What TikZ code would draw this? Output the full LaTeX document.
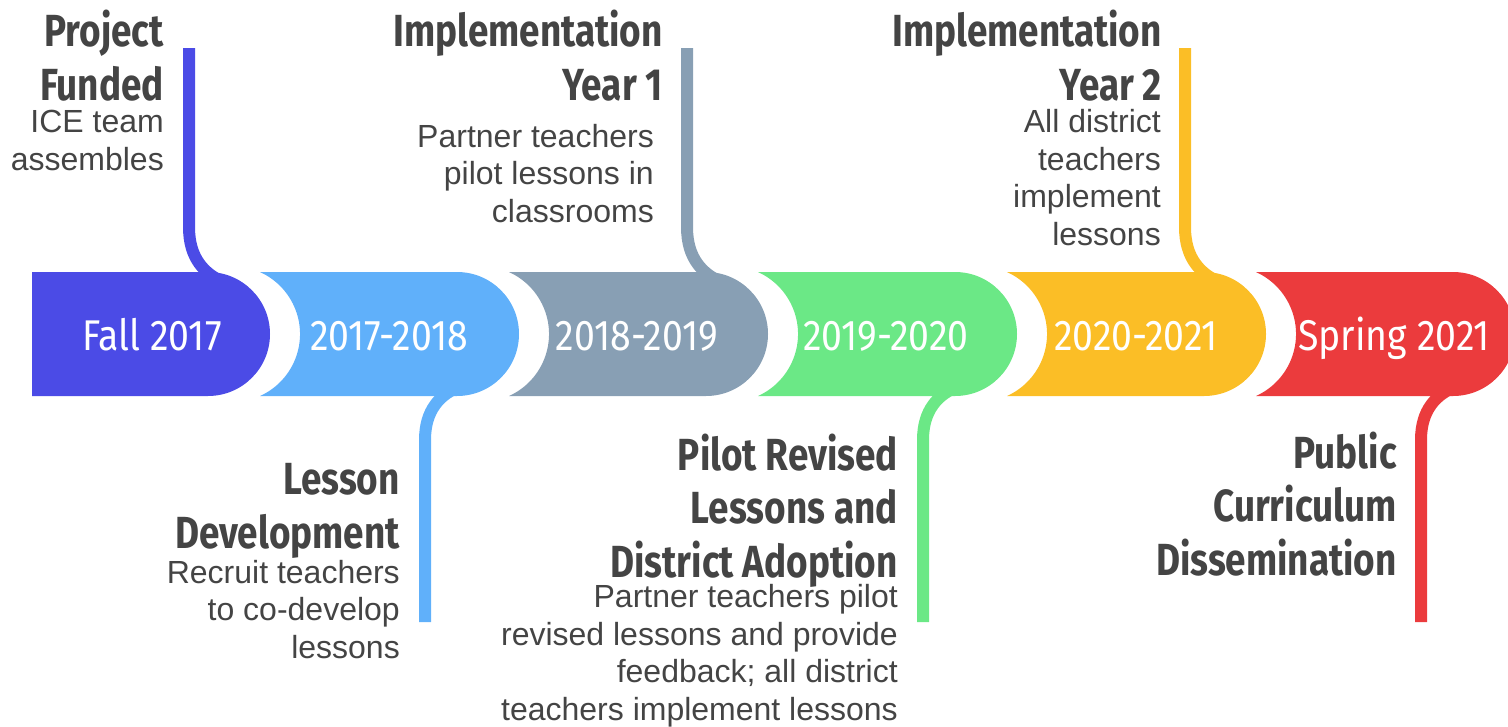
\documentclass[tikz,border=0pt]{standalone}
\usepackage{fontspec}
\setmainfont{Liberation Sans}
\newfontfamily\titlefont[FakeStretch=0.82]{Fira Sans}
\newfontfamily\bandfont[FakeStretch=0.87]{Fira Sans}
\definecolor{c1}{HTML}{4B4BE6}
\definecolor{c2}{HTML}{60B0FA}
\definecolor{c3}{HTML}{889FB4}
\definecolor{c4}{HTML}{6BE886}
\definecolor{c5}{HTML}{FBBE26}
\definecolor{c6}{HTML}{EB3B3D}
\definecolor{txt}{HTML}{444444}
\begin{document}
\begin{tikzpicture}[x=1pt,y=-1pt,
  title/.style={font=\titlefont\bfseries\fontsize{45}{53.5}\selectfont, text=txt, align=right, inner sep=0pt, anchor=base east},
  body/.style={font=\fontsize{32}{37.5}\selectfont, text=txt, align=right, inner sep=0pt, anchor=base east},
  lab/.style={font=\bandfont\fontsize{43}{50}\selectfont, text=white, inner sep=0pt, anchor=base},
  stalk/.style={line width=12pt}]
\clip (0,0) rectangle (1508,726);
% stalks (drawn under the band)
\foreach \k/\c in {0/c1,2/c3,4/c5}{
  \pgfmathsetmacro\R{270+249*\k}
  \coordinate (top\k) at (\R-81,48);
  \draw[stalk,\c] (top\k) -- (\R-81,227) .. controls (\R-81,258) and (\R-66,274) .. (\R-45,283);
}
\foreach \k/\c in {1/c2,3/c4,5/c6}{
  \pgfmathsetmacro\R{270+249*\k}
  \coordinate (bot\k) at (\R-94,622);
  \draw[stalk,\c] (bot\k) -- (\R-94,440) .. controls (\R-94,410) and (\R-79,394) .. (\R-58,386);
}
% band segments
\fill[c1] (32,272) -- (208,272) arc[start angle=-90,end angle=90,radius=62] -- (32,396) -- cycle;
\foreach \k/\c in {1/c2,2/c3,3/c4,4/c5,5/c6}{
  \pgfmathsetmacro\R{270+249*\k}
  \pgfmathsetmacro\L{270+249*(\k-1)}
  \fill[\c] (\L-10,272) -- (\R-62,272) arc[start angle=-90,end angle=90,radius=62]
     -- (\L-10,396) arc[start angle=65.7,end angle=-65.7,radius=68] -- cycle;
}
% band labels
\node[lab] (b1) at (152,350) {Fall 2017};
\node[lab] (b2) at (389,350) {2017-2018};
\node[lab] (b3) at (637,350) {2018-2019};
\node[lab] (b4) at (886,350) {2019-2020};
\node[lab] (b5) at (1136,350) {2020-2021};
\node[lab] (b6) at (1394,350) {Spring 2021};
% titles and descriptions (anchored at the baseline of the last line)
\node[title] (t1) at (164,100) {Project\\Funded};
\node[body] (d1) at (164,170) {ICE team\\assembles};
\node[title] (t3) at (663,100) {Implementation\\Year 1};
\node[body] (d3) at (654,222) {Partner teachers\\pilot lessons in\\classrooms};
\node[title] (t5) at (1162,100) {Implementation\\Year 2};
\node[body] (d5) at (1161,245) {All district\\teachers\\implement\\lessons};
\node[title] (t2) at (400,548) {Lesson\\Development};
\node[body] (d2) at (400,658) {Recruit teachers\\to co-develop\\lessons};
\node[title] (t4) at (898,577) {Pilot Revised\\Lessons and\\District Adoption};
\node[body] (d4) at (898,720) {Partner teachers pilot\\revised lessons and provide\\feedback; all district\\teachers implement lessons};
\node[title] (t6) at (1397,575) {Public\\Curriculum\\Dissemination};
\end{tikzpicture}
\end{document}
